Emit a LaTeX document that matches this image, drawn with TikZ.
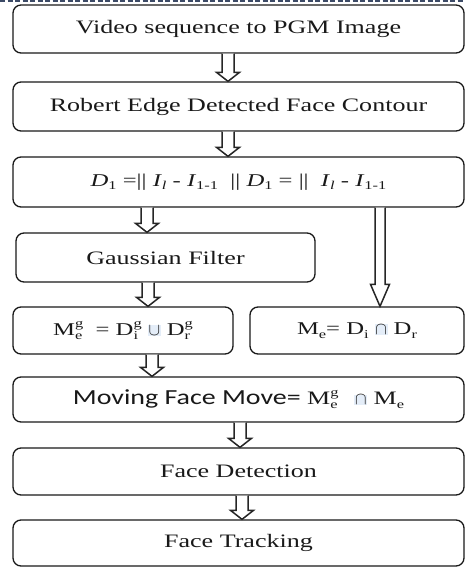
\documentclass[tikz,border=0pt]{standalone}
\usepackage{fontspec}
\usetikzlibrary{calc}
\setmainfont{Liberation Serif}
\newfontfamily\tnr[FakeStretch=1.37]{Liberation Serif}
\newfontfamily\cbr[FakeStretch=1.3]{Carlito}
\definecolor{hl}{HTML}{E4EDF8}
\definecolor{dashc}{HTML}{3C4A66}
\newcommand\hlbox[1]{{\setlength{\fboxsep}{0.6pt}\colorbox{hl}{#1}}}
\newcommand\smallidx[1]{{\fontsize{12}{12}\selectfont #1}}
\newcommand\supsub[2]{\begingroup\setbox0\hbox{\smallidx{#1}}\setbox2\hbox{\smallidx{#2}}%
  \dimen0=\ifdim\wd0>\wd2 \wd0\else\wd2\fi
  \makebox[\dimen0][l]{\makebox[0pt][l]{\raisebox{8pt}{\copy0}}\raisebox{-4pt}{\copy2}}\endgroup}
\newcommand\sub[1]{\raisebox{-3.5pt}{\smallidx{#1}}}
\newcommand\blockarrow[6]{%
  \path[barr] let \p1=(#1.south), \p2=(#2.north) in
    (#3-#4,\y1) -- (#3-#4,\y2+#6) -- (#3-#5,\y2+#6) -- (#3,\y2)
    -- (#3+#5,\y2+#6) -- (#3+#4,\y2+#6) -- (#3+#4,\y1);}
\tikzset{
  box/.style={draw=black!90, line width=1.3pt, rounded corners=8pt, inner sep=0pt,
    font=\tnr\fontsize{19}{22}\selectfont, text=black!90},
  formula/.style={font=\tnr\fontsize{18}{22}\selectfont},
  barr/.style={draw=black!85, line width=1.5pt, fill=white, line join=miter},
  topdash/.style={draw=dashc, line width=2pt, dash pattern=on 5pt off 2.5pt},
}
\begin{document}
\begin{tikzpicture}[x=1pt,y=-1pt]
\useasboundingbox (0,0) rectangle (465,567);
\coordinate (dl) at (0,1);
\coordinate (dr) at (465,1);
\path[topdash] (dl) -- (dr);

\node[box, minimum width=451pt, minimum height=48pt] (b1) at (238.5,29) {Video sequence to PGM Image};
\node[box, minimum width=451pt, minimum height=49pt] (b2) at (238.5,106.5) {Robert Edge Detected Face Contour};
\node[box, formula, minimum width=451pt, minimum height=50pt] (b3) at (238.5,182)
  {\textit{D}\sub{1} =|| \textit{I}\sub{\textit{l}} - \textit{I}\sub{1-1}\ \ || \textit{D}\sub{1} = ||\ \ \textit{I}\sub{\textit{l}} - \textit{I}\sub{1-1}};
\node[box, minimum width=299pt, minimum height=49pt] (gauss) at (165.5,257.5) {Gaussian Filter};
\node[box, formula, minimum width=220pt, minimum height=47pt] (meg) at (123,330.5)
  {M\supsub{g}{e}\ \ = D\supsub{g}{i} \hlbox{$\cup$} D\supsub{g}{r}};
\node[box, formula, minimum width=214pt, minimum height=47pt] (me) at (357,330.5)
  {M\sub{e}= D\sub{i} \hlbox{$\cap$} D\sub{r}};
\node[box, minimum width=451pt, minimum height=45pt] (move) at (238.5,399.5)
  {{\cbr\fontsize{21.5}{22}\selectfont Moving Face Move= }M\supsub{g}{e}\hspace{16pt}\hlbox{$\cap$} M\sub{e}};
\node[box, minimum width=451pt, minimum height=47pt] (det) at (238.5,471.5) {Face Detection};
\node[box, minimum width=451pt, minimum height=46pt] (track) at (238.5,543) {Face Tracking};

\blockarrow{b1}{b2}{228pt}{6pt}{11.5pt}{9pt}
\blockarrow{b2}{b3}{228pt}{6pt}{11.5pt}{9pt}
\blockarrow{b3}{gauss}{147pt}{6pt}{11.5pt}{9pt}
\blockarrow{gauss}{meg}{148pt}{6pt}{11.5pt}{9pt}
\blockarrow{b3}{me}{380pt}{5pt}{9.5pt}{22pt}
\blockarrow{meg}{move}{152pt}{6pt}{11.5pt}{9pt}
\blockarrow{move}{det}{240pt}{6pt}{11.5pt}{9pt}
\blockarrow{det}{track}{242pt}{6pt}{11.5pt}{9pt}
\end{tikzpicture}
\end{document}
